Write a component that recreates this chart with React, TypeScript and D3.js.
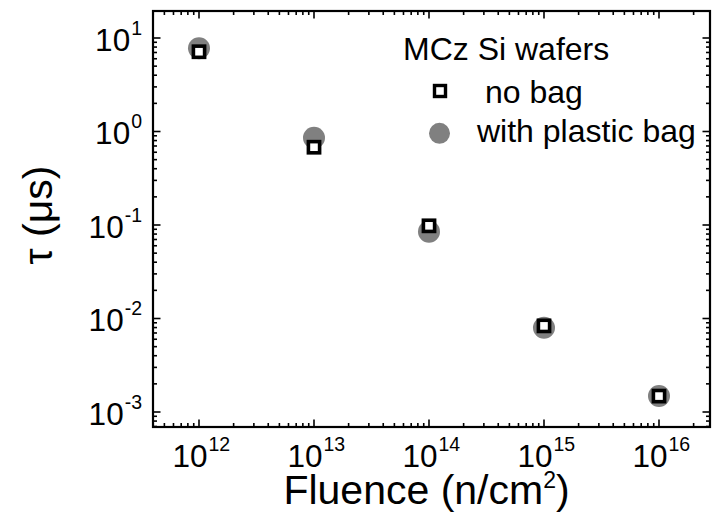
import React from "react";
import * as d3 from "d3";

const fluence = [1e12, 1e13, 1e14, 1e15, 1e16];
const noBag = [7.13, 0.679, 0.098, 0.00834, 0.00148];
const withBag = [7.78, 0.856, 0.0849, 0.00796, 0.00148];
const xTickExps = [12, 13, 14, 15, 16];
const yTickExps = [1, 0, -1, -2, -3];
const legendTitle = "MCz Si wafers";
const seriesNames = ["no bag", "with plastic bag"];

const W = 712;
const H = 516;
const L = 153, R = 710, T = 11, B = 427;
const TICK_FS = 31.5;
const SUP_FS = 19.5;

// approximate advance widths (em) for Liberation Sans
const charW = (c: string) => (c === "-" ? 0.333 : 0.556);
const supWidth = (s: string) => s.split("").reduce((a, c) => a + charW(c), 0) * SUP_FS;

export default function App() {
  const x = d3.scaleLog().domain([Math.pow(10, 11.6), Math.pow(10, 16.4435)]).range([L, R]);
  const y = d3.scaleLog().domain([Math.pow(10, -3.1604), Math.pow(10, 1.2888)]).range([B, T]);

  const minor = (dom: number[]) => {
    const out: { v: number; major: boolean }[] = [];
    const lo = Math.floor(Math.log10(dom[0]));
    const hi = Math.ceil(Math.log10(dom[1]));
    for (let e = lo; e <= hi; e++) {
      for (let m = 1; m <= 9; m++) {
        const v = m * Math.pow(10, e);
        if (v >= dom[0] && v <= dom[1]) out.push({ v, major: m === 1 });
      }
    }
    return out;
  };
  const xt = minor(x.domain());
  const yt = minor(y.domain());
  const maj = 7.5, mn = 4;
  const font = "'Liberation Sans', Arial, sans-serif";

  return (
    <svg width={W} height={H} style={{ position: "absolute", left: 0, top: 0, background: "#fff" }} fontFamily={font}>
      <rect x={0} y={0} width={W} height={H} fill="#fff" />
      {/* ticks */}
      <g stroke="#000" strokeWidth={1.6}>
        {xt.map((t, i) => {
          const px = x(t.v);
          const len = t.major ? maj : mn;
          return (
            <g key={"x" + i}>
              <line x1={px} x2={px} y1={B} y2={B - len} />
              <line x1={px} x2={px} y1={T} y2={T + len} />
            </g>
          );
        })}
        {yt.map((t, i) => {
          const py = y(t.v);
          const len = t.major ? maj : mn;
          return (
            <g key={"y" + i}>
              <line x1={L} x2={L + len} y1={py} y2={py} />
              <line x1={R} x2={R - len} y1={py} y2={py} />
            </g>
          );
        })}
      </g>
      <rect x={L} y={T} width={R - L} height={B - T} fill="none" stroke="#000" strokeWidth={2.2} />
      {/* x tick labels */}
      {xTickExps.map((e) => {
        const px = x(Math.pow(10, e));
        return (
          <g key={"xl" + e}>
            <text x={px + 8.5} y={467} textAnchor="end" fontSize={TICK_FS} fill="#000">10</text>
            <text x={px + 9.5} y={451} textAnchor="start" fontSize={SUP_FS} fill="#000">{String(e)}</text>
          </g>
        );
      })}
      {/* y tick labels */}
      {yTickExps.map((e) => {
        const py = y(Math.pow(10, e));
        const s = String(e);
        const sw = supWidth(s);
        return (
          <g key={"yl" + e}>
            <text x={142 - sw - 1} y={py + 12.7} textAnchor="end" fontSize={TICK_FS} fill="#000">10</text>
            <text x={142} y={py - 3.5} textAnchor="end" fontSize={SUP_FS} fill="#000">{s}</text>
          </g>
        );
      })}
      {/* axis titles */}
      <text x={426.5} y={504} textAnchor="middle" fontSize={41} fill="#000">
        Fluence (n/cm<tspan fontSize={23} dy={-16}>2</tspan><tspan dy={16}>)</tspan>
      </text>
      <text transform={`translate(52,215) rotate(-90)`} textAnchor="middle" fontSize={41} fill="#000">
        τ (μs)
      </text>
      {/* data */}
      {fluence.map((f, i) => (
        <circle key={"c" + i} cx={x(f)} cy={y(withBag[i])} r={11} fill="#808080" />
      ))}
      {fluence.map((f, i) => (
        <rect key={"s" + i} x={x(f) - 5.6} y={y(noBag[i]) - 5.6} width={11.2} height={11.2} fill="#fff" stroke="#000" strokeWidth={3.6} />
      ))}
      {/* legend */}
      <text x={403} y={60} fontSize={32} fill="#000">{legendTitle}</text>
      <rect x={440 - 5.5} y={91 - 5.5} width={11} height={11} fill="#fff" stroke="#000" strokeWidth={3.4} />
      <text x={485} y={102.5} fontSize={32} fill="#000">{seriesNames[0]}</text>
      <circle cx={439.5} cy={133.3} r={10.5} fill="#808080" />
      <text x={477} y={142} fontSize={32} fill="#000">{seriesNames[1]}</text>
    </svg>
  );
}
